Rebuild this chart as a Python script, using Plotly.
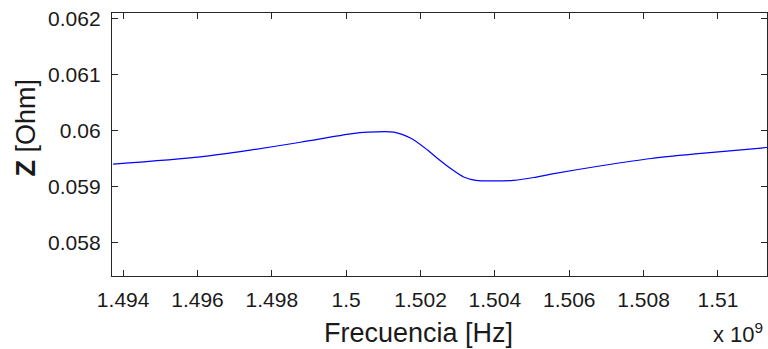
import plotly.graph_objects as go

# Frequency in units of 1e9 Hz
freq = [1.49373, 1.49608, 1.49742, 1.49877, 1.50012, 1.50058, 1.50128, 1.50174,
        1.50219, 1.50246, 1.50281, 1.50316, 1.50349, 1.50400, 1.50451, 1.50505,
        1.50551, 1.50686, 1.50820, 1.50955, 1.51138]
z_ohm = [0.05940, 0.05953, 0.05965, 0.05979, 0.05994, 0.05997, 0.05997, 0.05986,
         0.05965, 0.05950, 0.05932, 0.05917, 0.05911, 0.05910, 0.05911, 0.05916,
         0.05922, 0.05937, 0.05950, 0.05959, 0.05970]

x_tickvals = [1.494, 1.496, 1.498, 1.500, 1.502, 1.504, 1.506, 1.508, 1.510]
x_ticktext = ["1.494", "1.496", "1.498", "1.5", "1.502", "1.504", "1.506", "1.508", "1.51"]
y_tickvals = [0.058, 0.059, 0.060, 0.061, 0.062]
y_ticktext = ["0.058", "0.059", "0.06", "0.061", "0.062"]

FONT = "Liberation Sans, Arial, sans-serif"
AX = "#262626"
TXT = "#1a1a1a"

fig = go.Figure()
fig.add_trace(go.Scatter(x=freq, y=z_ohm, mode="lines",
                         line=dict(color="#0000ff", width=1.2, shape="spline", smoothing=0.8),
                         showlegend=False, hoverinfo="skip"))

axis_common = dict(showgrid=False, zeroline=False, showline=True, linecolor=AX, linewidth=1.3,
                   mirror="ticks", ticks="inside", ticklen=6, tickwidth=1.3, tickcolor=AX,
                   tickfont=dict(family=FONT, size=21, color=TXT))

fig.update_xaxes(range=[1.4937, 1.51132], tickvals=x_tickvals, ticktext=x_ticktext,
                 ticklabelstandoff=5, **axis_common)
fig.update_yaxes(range=[0.0574, 0.0621], tickvals=y_tickvals, ticktext=y_ticktext,
                 ticklabelstandoff=6, **axis_common)

fig.add_annotation(text="Frecuencia [Hz]", xref="paper", yref="paper", x=0.468, y=-0.218,
                   xanchor="center", yanchor="middle", showarrow=False,
                   font=dict(family=FONT, size=27, color=TXT))
fig.add_annotation(text="x 10<sup>9</sup>", xref="paper", yref="paper", x=0.997, y=-0.155,
                   xanchor="right", yanchor="top", showarrow=False,
                   font=dict(family=FONT, size=22, color=TXT))
fig.add_annotation(text="<b>Z</b> [Ohm]", xref="paper", yref="paper", x=-0.131, y=0.565,
                   xanchor="center", yanchor="middle", textangle=-90, showarrow=False,
                   font=dict(family=FONT, size=27, color=TXT))

fig.update_layout(width=768, height=349, margin=dict(l=112, r=1, t=13, b=73),
                  paper_bgcolor="white", plot_bgcolor="white")

fig.write_html("out.html")
